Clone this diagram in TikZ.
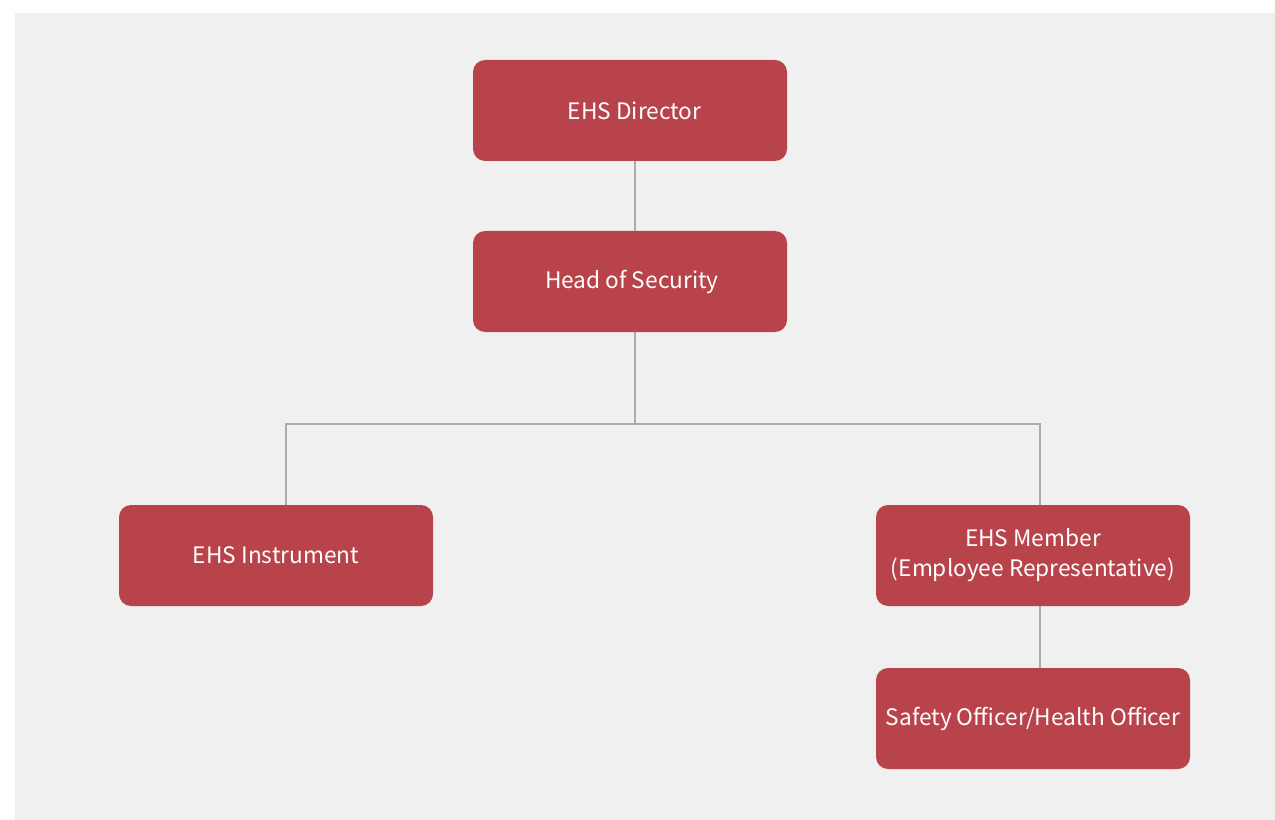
\documentclass[tikz,border=0pt]{standalone}
\usepackage{fontspec}
\setmainfont{Noto Sans CJK SC}
\definecolor{boxred}{HTML}{B9434B}
\definecolor{bg}{HTML}{F0F0F0}
\definecolor{linegray}{HTML}{ABABAB}
\begin{document}
\begin{tikzpicture}[x=0.75pt,y=-0.75pt,
  orgbox/.style={fill=boxred,draw=none,rounded corners=9pt,minimum width=235.5pt,minimum height=75.75pt,inner sep=0pt,text=white,font=\fontsize{17}{22.5}\selectfont,align=center},
  conn/.style={draw=linegray,line width=1.1pt}]
\useasboundingbox (0,0) rectangle (1275,820);
\fill[bg] (15,13) rectangle (1275,820);
\node[orgbox] (dir) at (630,110.5) {\hspace*{7pt}EHS Director};
\node[orgbox] (head) at (630,281.5) {\hspace*{3pt}Head of Security};
\node[orgbox] (inst) at (276,555.5) {EHS Instrument};
\node[orgbox] (mem) at (1033,555.5) {EHS Member\\(Employee Representative)};
\node[orgbox] (safe) at (1033,718.5) {Safety Officer/Health Officer};
\coordinate (j) at (635,424);
\draw[conn] (dir.south -| j) -- (head.north -| j);
\draw[conn] (head.south -| j) -- (j);
\draw[conn] (j) -- (286,424) -- (inst.north -| 286,0);
\draw[conn] (j) -- (1040,424) -- (mem.north -| 1040,0);
\draw[conn] (mem.south -| 1040,0) -- (safe.north -| 1040,0);
\end{tikzpicture}
\end{document}
